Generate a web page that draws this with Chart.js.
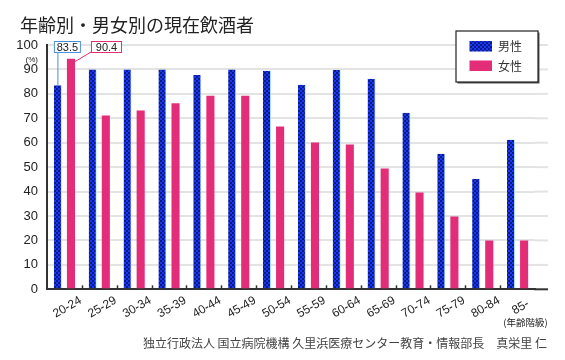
<!DOCTYPE html>
<html>
<head>
<meta charset="utf-8">
<script src="https://cdn.jsdelivr.net/npm/chart.js@4/dist/chart.umd.min.js"></script>
<style>
  body { margin: 0; background: #fff; }
  #wrap { width: 565px; height: 360px; position: relative; }
</style>
</head>
<body>
<div id="wrap"><canvas id="myChart" width="565" height="360"></canvas></div>
<script>
// データ
const ageGroups = ['20-24', '25-29', '30-34', '35-39', '40-44', '45-49', '50-54',
                   '55-59', '60-64', '65-69', '70-74', '75-79', '80-84', '85-'];
const maleValues = [83.5, 90, 90, 90, 87.7, 90, 89.5, 83.7, 89.8, 86.2, 72.3, 55.5, 45.2, 61.2];
const femaleValues = [94.4, 71.1, 73.2, 76.2, 79.2, 79.2, 66.6, 60.1, 59.3, 49.4, 39.6, 29.8, 20, 20];
const seriesNames = ['男性', '女性'];
const calloutText = ['83.5', '90.4'];
const yTicks = [0, 10, 20, 30, 40, 50, 60, 70, 80, 90, 100];

const latin = "'Liberation Sans', Arial, 'Noto Sans CJK JP', sans-serif";
const jp = "'Noto Sans CJK JP', 'Noto Sans', sans-serif";
const pink = '#e32d78';

// 男性用のチェック柄
function checkerPattern() {
    const c = document.createElement('canvas');
    c.width = 4; c.height = 4;
    const g = c.getContext('2d');
    g.fillStyle = '#1838f4';
    g.fillRect(0, 0, 4, 4);
    g.fillStyle = '#0a1888';
    g.fillRect(0, 0, 2, 2);
    g.fillRect(2, 2, 2, 2);
    return g.createPattern(c, 'repeat');
}
const malePattern = checkerPattern();

// タイトル・凡例・注記などを描くプラグイン
const extras = {
    id: 'extras',
    afterDraw(chart) {
        const ctx = chart.ctx;
        const area = chart.chartArea;
        const x = chart.scales.x;
        const y = chart.scales.y;
        const lineEnd = 548;
        ctx.save();

        // グリッド線を右に延長
        ctx.strokeStyle = '#e3e3e3';
        ctx.lineWidth = 2;
        yTicks.forEach(v => {
            if (v === 0) return;
            const py = y.getPixelForValue(v);
            ctx.beginPath();
            ctx.moveTo(area.right, py);
            ctx.lineTo(lineEnd, py);
            ctx.stroke();
        });
        ctx.strokeStyle = '#333';
        ctx.beginPath();
        ctx.moveTo(area.right - 1, y.getPixelForValue(0));
        ctx.lineTo(lineEnd, y.getPixelForValue(0));
        ctx.stroke();

        // 目盛り（内向き）
        ctx.lineWidth = 1.5;
        for (let i = 1; i < ageGroups.length; i++) {
            const px = Math.round((x.getPixelForTick(i - 1) + x.getPixelForTick(i)) / 2) + 0.5;
            ctx.beginPath();
            ctx.moveTo(px, area.bottom);
            ctx.lineTo(px, area.bottom - 4);
            ctx.stroke();
        }

        // 横軸ラベル（斜め・中央揃え）
        ctx.fillStyle = '#222';
        ctx.font = '12px ' + latin;
        ctx.textAlign = 'center';
        ctx.textBaseline = 'middle';
        chart.data.labels.forEach((lab, i) => {
            ctx.save();
            ctx.translate(x.getPixelForTick(i) + 3, area.bottom + 18);
            ctx.rotate(-30 * Math.PI / 180);
            ctx.fillText(lab, 0, 0);
            ctx.restore();
        });

        // タイトル
        ctx.font = '18px ' + jp;
        ctx.textAlign = 'left';
        ctx.fillText('年齢別・男女別の現在飲酒者', 20, 25);

        // (%)
        ctx.font = '8px ' + latin;
        ctx.textAlign = 'right';
        ctx.fillText('(%)', 38, 60);

        // (年齢階級)
        ctx.font = '9.5px ' + jp;
        ctx.textAlign = 'center';
        ctx.fillText('(年齢階級)', x.getPixelForTick(ageGroups.length - 1) + 8, 322);

        // 出典
        ctx.fillStyle = '#444';
        ctx.font = '12px ' + jp;
        ctx.textAlign = 'right';
        ctx.fillText('独立行政法人 国立病院機構 久里浜医療センター教育・情報部長　真栄里 仁', 547, 343);

        // 凡例
        const lx = 456, ly = 31, lw = 82, lh = 51;
        ctx.fillStyle = '#555';
        ctx.fillRect(lx + 1.5, ly + 1.5, lw, lh);
        ctx.fillStyle = '#fff';
        ctx.fillRect(lx, ly, lw, lh);
        ctx.strokeStyle = '#222';
        ctx.lineWidth = 1.2;
        ctx.strokeRect(lx, ly, lw, lh);
        chart.data.datasets.forEach((ds, i) => {
            const sy = ly + 10 + i * 19.5;
            ctx.fillStyle = ds.backgroundColor;
            ctx.fillRect(lx + 13.5, sy, 22.5, 10.5);
            ctx.fillStyle = '#333';
            ctx.font = '12px ' + jp;
            ctx.textAlign = 'left';
            ctx.textBaseline = 'middle';
            ctx.fillText(ds.label, lx + 42, sy + 5.5);
        });

        // 注記ボックス
        const mBar = chart.getDatasetMeta(0).data[0];
        const fBar = chart.getDatasetMeta(1).data[0];
        const boxTop = 41, boxH = 11;
        ctx.font = '11px ' + latin;
        ctx.textAlign = 'center';
        ctx.textBaseline = 'middle';

        // 男性
        const mLeft = mBar.x - 4, mW = 26;
        ctx.strokeStyle = '#4a90d9';
        ctx.lineWidth = 1;
        ctx.beginPath();
        ctx.moveTo(mBar.x, boxTop + boxH);
        ctx.lineTo(mBar.x, mBar.y);
        ctx.stroke();
        ctx.fillStyle = '#fff';
        ctx.fillRect(mLeft, boxTop, mW, boxH);
        ctx.strokeRect(mLeft + 0.5, boxTop + 0.5, mW, boxH);
        ctx.fillStyle = '#222';
        ctx.fillText(calloutText[0], mLeft + mW / 2 + 0.5, boxTop + boxH / 2 + 1);

        // 女性
        const fLeft = fBar.x + 20, fW = 30;
        ctx.strokeStyle = pink;
        ctx.beginPath();
        ctx.moveTo(fLeft, boxTop + boxH);
        ctx.lineTo(fBar.x + 4, fBar.y + 3);
        ctx.stroke();
        ctx.fillStyle = '#fff';
        ctx.fillRect(fLeft, boxTop, fW, boxH);
        ctx.strokeRect(fLeft + 0.5, boxTop + 0.5, fW, boxH);
        ctx.fillStyle = '#222';
        ctx.fillText(calloutText[1], fLeft + fW / 2 + 0.5, boxTop + boxH / 2 + 1);

        ctx.restore();
    }
};

const ctx = document.getElementById('myChart').getContext('2d');
const myChart = new Chart(ctx, {
    type: 'bar',
    data: {
        labels: ageGroups,
        datasets: [{
            label: seriesNames[0],
            data: maleValues,
            backgroundColor: malePattern,
            borderColor: '#b8eefc',
            borderWidth: { right: 1 },
            borderSkipped: false,
            categoryPercentage: 0.75,
            barPercentage: 0.62
        }, {
            label: seriesNames[1],
            data: femaleValues,
            backgroundColor: pink,
            borderWidth: 0,
            categoryPercentage: 0.75,
            barPercentage: 0.62
        }]
    },
    plugins: [extras],
    options: {
        responsive: false,
        animation: false,
        layout: { padding: { top: 45, right: 30, left: 0, bottom: 0 } },
        plugins: {
            legend: { display: false },
            tooltip: { enabled: false }
        },
        scales: {
            x: {
                grid: { display: false },
                border: { display: true, color: '#333', width: 2 },
                ticks: { display: false },
                afterFit(scale) { scale.height = 70.7; }
            },
            y: {
                min: 0,
                max: 100,
                afterBuildTicks(scale) { scale.ticks = yTicks.map(v => ({ value: v })); },
                grid: { color: '#e3e3e3', lineWidth: 2, drawTicks: false },
                border: { display: true, color: '#333', width: 2 },
                ticks: {
                    color: '#222',
                    font: { family: latin, size: 13 },
                    padding: 9
                },
                afterFit(scale) { scale.width = 47; }
            }
        }
    }
});
</script>
</body>
</html>
